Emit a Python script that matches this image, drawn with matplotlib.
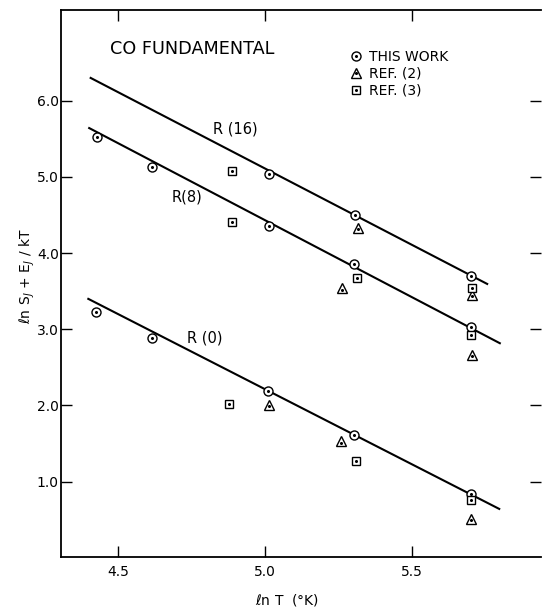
import matplotlib.pyplot as plt
from matplotlib.legend_handler import HandlerTuple
from matplotlib.lines import Line2D

# ln T values and ln S_J + E_J/kT values
# this work (circles)
work_x = [4.427, 4.617, 5.015, 5.303, 5.701,
          5.015, 5.307, 5.701,
          4.425, 4.615, 5.011, 5.303, 5.700]
work_y = [5.52, 5.125, 4.356, 3.857, 3.025,
          5.04, 4.495, 3.70,
          3.231, 2.88, 2.194, 1.617, 0.839]

# Ref. (2) (triangles)
ref2_x = [5.315, 5.704, 5.262, 5.704, 5.013, 5.260, 5.700]
ref2_y = [4.33, 3.45, 3.54, 2.667, 2.01, 1.53, 0.51]

# Ref. (3) (squares)
ref3_x = [4.889, 5.704, 4.887, 5.312, 5.700, 4.879, 5.310, 5.700]
ref3_y = [5.07, 3.54, 4.408, 3.668, 2.93, 2.02, 1.276, 0.76]

# fitted lines, end points
fit_x = {'R16': [4.407, 5.756], 'R8': [4.402, 5.799], 'R0': [4.399, 5.797]}
fit_y = {'R16': [6.298, 3.594], 'R8': [5.64, 2.816], 'R0': [3.398, 0.641]}

fig = plt.figure(figsize=(5.42, 6.08), dpi=100)
ax = fig.add_axes([0.1125, 0.0839, 0.8856, 0.8997])

for k in fit_x:
    ax.plot(fit_x[k], fit_y[k], color='black', lw=1.5, zorder=1)

kw = dict(ls='none', mfc='white', mec='black', mew=1.0)
ax.plot(work_x, work_y, marker='o', ms=6.5, zorder=3, **kw)
ax.plot(ref2_x, ref2_y, marker='^', ms=7, zorder=3, **kw)
ax.plot(ref3_x, ref3_y, marker='s', ms=5.5, zorder=3, **kw)
dot = dict(ls='none', marker='o', ms=1.2, color='black', zorder=4)
ax.plot(work_x, work_y, **dot)
ax.plot(ref2_x, [y - 0.02 for y in ref2_y], **dot)
ax.plot(ref3_x, ref3_y, **dot)

ax.text(4.473, 6.68, 'CO FUNDAMENTAL', fontsize=12.7, va='center')
ax.text(4.823, 5.63, 'R (16)', fontsize=10.5, va='center')
ax.text(4.684, 4.74, 'R(8)', fontsize=10.5, va='center')
ax.text(4.735, 2.89, 'R (0)', fontsize=10.5, va='center')

# legend: open marker with a dot in the middle
dot_h = Line2D([], [], ls='none', marker='o', ms=1.2, color='black')
handles = [(Line2D([], [], marker=m, ms=s, **kw), dot_h)
           for m, s in [('o', 6.5), ('^', 7), ('s', 5.5)]]
ax.legend(handles, ['THIS WORK', 'REF. (2)', 'REF. (3)'],
          handler_map={tuple: HandlerTuple(ndivide=1, pad=0)},
          loc='upper left', bbox_to_anchor=(0.603, 0.927), frameon=False,
          fontsize=10, handlelength=0.8, handletextpad=0.55, labelspacing=0.2,
          borderpad=0, borderaxespad=0)

ax.set_xlim(4.306, 5.939)
ax.set_ylim(0.01, 7.19)
ax.set_xticks([4.5, 5.0, 5.5])
ax.set_xticklabels(['4.5', '5.0', '5.5'])
ax.set_yticks([1, 2, 3, 4, 5, 6])
ax.set_yticklabels(['1.0', '2.0', '3.0', '4.0', '5.0', '6.0'])
ax.tick_params(direction='in', length=8, width=1, labelsize=10,
               top=True, right=True)
ax.tick_params(axis='x', pad=6)
ax.tick_params(axis='y', pad=1.5)
ax.spines['right'].set_visible(False)
for s in ['left', 'bottom', 'top']:
    ax.spines[s].set_linewidth(1.3)

ax.set_xlabel(r'$\ell$n T  (°K)', fontsize=10)
ax.xaxis.set_label_coords(0.471, -0.064)
ax.set_ylabel(r'$\ell$n S$_J$ + E$_J$ / kT', fontsize=10)
ax.yaxis.set_label_coords(-0.050, 0.514)

fig.savefig('out.png', dpi=100)
